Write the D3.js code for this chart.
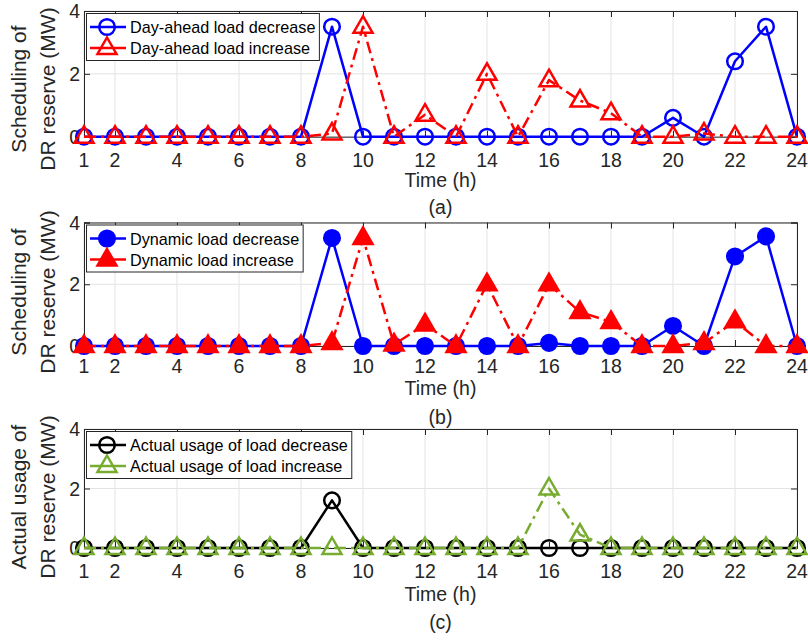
<!DOCTYPE html>
<html>
<head>
<meta charset="utf-8">
<script src="https://cdn.jsdelivr.net/npm/d3@7"></script>
<style>
  html, body { margin: 0; padding: 0; background: #fff; }
  svg { display: block; font-family: "Liberation Sans", Arial, Helvetica, sans-serif; }
</style>
</head>
<body>
<svg id="chart" width="808" height="640"></svg>
<script>
// ---------------- data ----------------
const hours = [1,2,3,4,5,6,7,8,9,10,11,12,13,14,15,16,17,18,19,20,21,22,23,24];
const xTickValues = [1,2,4,6,8,10,12,14,16,18,20,22,24];
const yTickValues = [0,2,4];

const dayAheadDecrease = [0,0,0,0,0,0,0,0,3.5,0,0,0,0,0,0,0,0,0,0,0.6,0,2.4,3.5,0];
const dayAheadIncrease = [0,0,0,0,0,0,0,0,0.1,3.5,0,0.7,0,2.0,0,1.8,1.15,0.75,0,0,0.1,0,0,0];
const dynamicDecrease  = [0,0,0,0,0,0,0,0,3.5,0,0,0,0,0,0,0.1,0,0,0,0.65,0,2.9,3.55,0];
const dynamicIncrease  = [0,0,0,0,0,0,0,0,0.1,3.5,0.05,0.7,0,2.0,0,2.0,1.1,0.78,0,0,0.1,0.8,0,0];
const actualDecrease   = [0,0,0,0,0,0,0,0,1.6,0,0,0,0,0,0,0,0,0,0,0,0,0,0,0];
const actualIncrease   = [0,0,0,0,0,0,0,0,0,0,0,0,0,0,0,2.0,0.45,0,0,0,0,0,0,0];

const legendNames = [
  ["Day-ahead load decrease", "Day-ahead load increase"],
  ["Dynamic load decrease", "Dynamic load increase"],
  ["Actual usage of load decrease", "Actual usage of load increase"]
];
const yLabels = [
  ["Scheduling of", "DR reserve (MW)"],
  ["Scheduling of", "DR reserve (MW)"],
  ["Actual usage of", "DR reserve (MW)"]
];
const panelLetters = ["(a)", "(b)", "(c)"];
const xLabel = "Time (h)";

// ---------------- layout / style ----------------
const BLUE = "#0000ff", RED = "#ff0000", BLACK = "#000000", GREEN = "#77ac30";
const TEXT = "#262626";
const DASHDOT = "12,5,3,5";
const LW = 2.5;

const panels = [
  { top: 11,    bottom: 136.7, tickY: 160, timeY: 180, letterY: 207, ylabY: 89,
    series: [ {values: dayAheadDecrease, color: BLUE, marker: "circle", filled: false, dash: null},
              {values: dayAheadIncrease, color: RED, marker: "triangle", filled: false, dash: DASHDOT} ] },
  { top: 222.5, bottom: 346,   tickY: 366, timeY: 388, letterY: 417, ylabY: 292,
    series: [ {values: dynamicDecrease, color: BLUE, marker: "circle", filled: true, dash: null},
              {values: dynamicIncrease, color: RED, marker: "triangle", filled: true, dash: DASHDOT} ] },
  { top: 429,   bottom: 548,   tickY: 571, timeY: 594, letterY: 622, ylabY: 497,
    series: [ {values: actualDecrease, color: BLACK, marker: "circle", filled: false, dash: null},
              {values: actualIncrease, color: GREEN, marker: "triangle", filled: false, dash: DASHDOT} ] }
];

const left = 84, right = 797;
const svg = d3.select("#chart");

const x = d3.scaleLinear().domain([1, 24]).range([left, right]);

function drawMarker(g, type, cx, cy, color, filled) {
  if (type === "circle") {
    g.append("circle").attr("cx", cx).attr("cy", cy).attr("r", 7.8)
      .attr("fill", filled ? color : "none").attr("stroke", color).attr("stroke-width", LW);
  } else {
    const p = [[cx, cy - 10.5], [cx + 9.5, cy + 6], [cx - 9.5, cy + 6]];
    g.append("path").attr("d", "M" + p.map(d => d.join(",")).join("L") + "Z")
      .attr("fill", filled ? color : "none").attr("stroke", color)
      .attr("stroke-width", LW).attr("stroke-linejoin", "miter");
  }
}

panels.forEach((P, pi) => {
  const y = d3.scaleLinear().domain([0, 4]).range([P.bottom, P.top]);
  const g = svg.append("g");

  // grid
  g.append("g").selectAll("line").data(xTickValues).join("line")
    .attr("x1", d => x(d)).attr("x2", d => x(d)).attr("y1", P.top).attr("y2", P.bottom)
    .attr("stroke", "#e3e3e3").attr("stroke-width", 1);
  g.append("g").selectAll("line").data(yTickValues).join("line")
    .attr("x1", left).attr("x2", right).attr("y1", d => y(d)).attr("y2", d => y(d))
    .attr("stroke", "#e3e3e3").attr("stroke-width", 1);

  // axes via d3 axis (inward ticks)
  const axB = d3.axisBottom(x).tickValues(xTickValues).tickSize(-6).tickFormat("");
  const axT = d3.axisTop(x).tickValues(xTickValues).tickSize(-6).tickFormat("");
  const axL = d3.axisLeft(y).tickValues(yTickValues).tickSize(-6).tickFormat("");
  const axR = d3.axisRight(y).tickValues(yTickValues).tickSize(-6).tickFormat("");
  [[axB, `translate(0,${P.bottom})`], [axT, `translate(0,${P.top})`],
   [axL, `translate(${left},0)`], [axR, `translate(${right},0)`]].forEach(([ax, tr]) => {
    const a = g.append("g").attr("transform", tr).call(ax);
    a.select(".domain").attr("stroke", TEXT).attr("stroke-width", 1);
    a.selectAll(".tick line").attr("stroke", TEXT).attr("stroke-width", 1);
  });

  // tick labels
  g.append("g").selectAll("text").data(xTickValues).join("text")
    .attr("x", d => x(d)).attr("y", P.tickY).attr("text-anchor", "middle")
    .attr("dominant-baseline", "central").attr("font-size", 19.5).attr("fill", TEXT)
    .text(d => d);
  g.append("g").selectAll("text").data(yTickValues).join("text")
    .attr("x", left - 4).attr("y", d => y(d)).attr("text-anchor", "end")
    .attr("dominant-baseline", "central").attr("font-size", 19.5).attr("fill", TEXT)
    .text(d => d);

  // axis labels
  g.append("text").attr("x", (left + right) / 2).attr("y", P.timeY)
    .attr("text-anchor", "middle").attr("dominant-baseline", "central")
    .attr("font-size", 19.5).attr("fill", TEXT).text(xLabel);
  g.append("text").attr("x", (left + right) / 2).attr("y", P.letterY)
    .attr("text-anchor", "middle").attr("dominant-baseline", "central")
    .attr("font-size", 19.5).attr("fill", TEXT).text(panelLetters[pi]);
  [18, 47].forEach((lx, li) => {
    g.append("text").attr("transform", `translate(${lx},${P.ylabY}) rotate(-90)`)
      .attr("text-anchor", "middle").attr("dominant-baseline", "central")
      .attr("font-size", 21).attr("fill", TEXT).text(yLabels[pi][li]);
  });

  // series
  const line = d3.line().x((d, i) => x(hours[i])).y(d => y(d));
  P.series.forEach(S => {
    const sg = g.append("g");
    sg.append("path").datum(S.values).attr("d", line)
      .attr("fill", "none").attr("stroke", S.color).attr("stroke-width", LW)
      .attr("stroke-dasharray", S.dash).attr("stroke-linejoin", "round");
    S.values.forEach((v, i) => drawMarker(sg, S.marker, x(hours[i]), y(v), S.color, S.filled));
  });

  // legend
  const lg = g.append("g");
  const box = lg.append("rect").attr("x", 86.5).attr("y", P.top + 2.5).attr("height", 47)
    .attr("fill", "#fff").attr("stroke", TEXT).attr("stroke-width", 1);
  let maxW = 0;
  P.series.forEach((S, si) => {
    const ry = P.top + 16 + si * 21;
    lg.append("line").attr("x1", 90).attr("x2", 126).attr("y1", ry).attr("y2", ry)
      .attr("stroke", S.color).attr("stroke-width", LW);
    drawMarker(lg, S.marker, 107, ry, S.color, S.filled);
    const t = lg.append("text").attr("x", 130).attr("y", ry).attr("dominant-baseline", "central")
      .attr("font-size", 16.2).attr("fill", "#000").text(legendNames[pi][si]);
    maxW = Math.max(maxW, t.node().getComputedTextLength());
  });
  box.attr("width", 130 + maxW + 4 - 86.5);
});
</script>
</body>
</html>
